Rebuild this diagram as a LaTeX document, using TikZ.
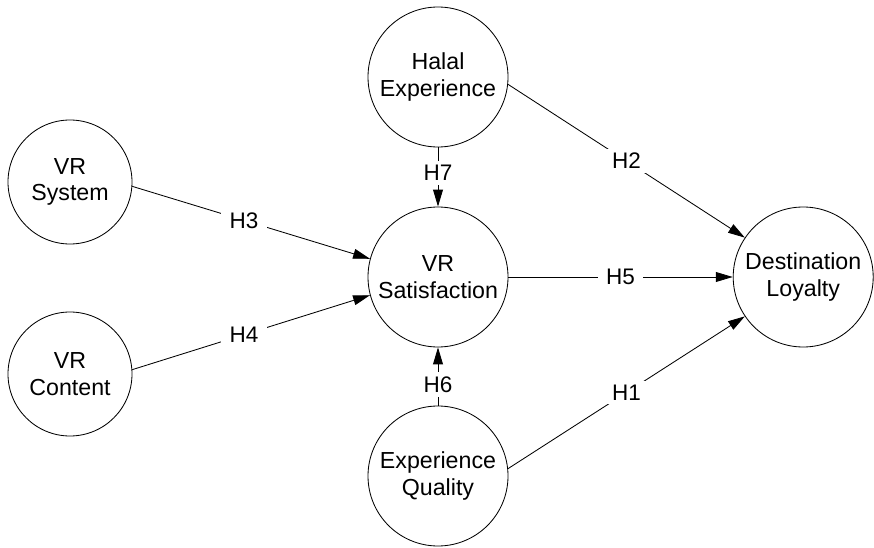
\documentclass[tikz,border=0pt]{standalone}
\usepackage{fontspec}
\setmainfont{Liberation Sans}
\usetikzlibrary{arrows.meta}
\begin{document}
\begin{tikzpicture}[>={Triangle[length=12pt,width=7pt]}, line width=0.6pt,
  construct/.style={draw, circle, align=center, minimum size=3.5cm, inner sep=0pt, font=\fontsize{16.5}{19}\selectfont},
  smallconstruct/.style={construct, minimum size=3.1cm},
  hyp/.style={fill=white, inner xsep=6pt, inner ysep=3pt, font=\fontsize{16}{19}\selectfont}]
\useasboundingbox (0,0) rectangle (21.85,13.675);
\node (sat) [construct] at (10.95,6.75) {VR\\Satisfaction};
\node (halal) [construct] at (10.95,11.75) {Halal\\Experience};
\node (quality) [construct] at (10.95,1.775) {Experience\\Quality};
\node (system) [smallconstruct] at (1.75,9.125) {VR\\System};
\node (content) [smallconstruct] at (1.75,4.325) {VR\\Content};
\node (loyalty) [construct] at (20.08,6.75) {Destination\\Loyalty};
\draw[->] (system.-4) -- node[hyp, pos=0.47]{H3} (sat.165);
\draw[->] (content.4) -- node[hyp, pos=0.47]{H4} (sat.195);
\draw[->] (halal.south) -- node[hyp, pos=0.43]{H7} (sat.north);
\draw[->] (quality.north) -- node[hyp, pos=0.36]{H6} (sat.south);
\draw[->] (sat.east) -- node[hyp]{H5} (loyalty.west);
\draw[->] (halal.-6) -- node[hyp]{H2} (loyalty.146);
\draw[->] (quality.6) -- node[hyp]{H1} (loyalty.214);
\end{tikzpicture}
\end{document}
